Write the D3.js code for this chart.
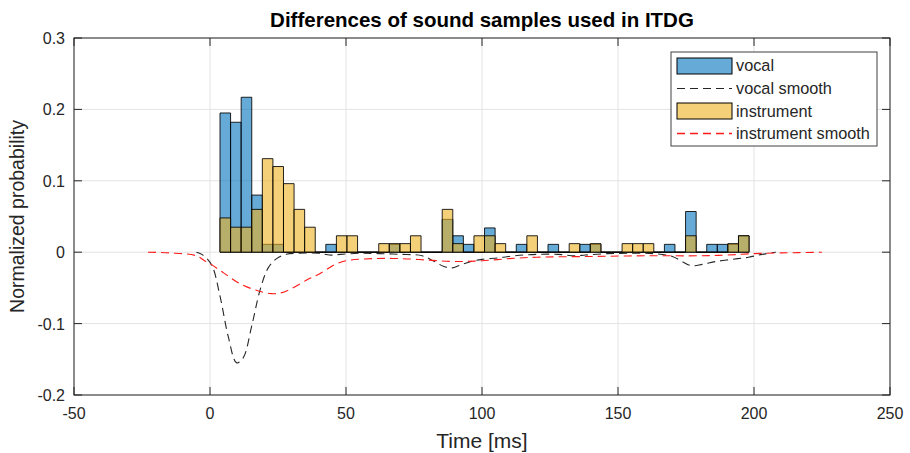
<!DOCTYPE html>
<html><head><meta charset="utf-8">
<script src="https://cdn.jsdelivr.net/npm/d3@7/dist/d3.min.js"></script>
<style>
body{margin:0;background:#fff}
text{font-family:"Liberation Sans",Arial,Helvetica,sans-serif;fill:#262626}
</style></head>
<body>
<svg id="chart" width="910" height="453"></svg>
<script>
// ---------- data ----------
const titleText = "Differences of sound samples used in ITDG";
const xLabelText = "Time [ms]";
const yLabelText = "Normalized probability";
const xTicks = [-50, 0, 50, 100, 150, 200, 250];
const yTicks = [-0.2, -0.1, 0, 0.1, 0.2, 0.3];
const binStart = 3.68;   // ms, left edge of first bin
const binWidth = 3.89;   // ms
const vocal = [0.195,0.182,0.217,0.080,0.011,0.011,0,0,0,0,
               0.011,0,0,0,0,0,0.011,0,0,0,
               0,0.046,0.023,0.011,0,0.034,0,0,0.011,0,
               0,0.011,0,0,0.011,0.011,0,0,0,0,
               0,0,0.011,0,0.057,0,0.011,0.011,0.011,0.023];
const instrument = [0.048,0.035,0.035,0.060,0.131,0.120,0.096,0.060,0.035,0,
                    0,0.023,0.023,0,0,0.012,0.012,0.012,0.023,0,
                    0,0.060,0.012,0,0.023,0.023,0.012,0,0,0.023,
                    0,0,0,0.012,0,0.012,0,0,0.012,0.012,
                    0.012,0,0,0,0.023,0,0,0,0.012,0.023];
const vocalSmoothT = [-5,-3,0.6,3.7,6.7,9.8,12.2,15.3,18.4,21.4,24.5,28,32,40,44,48,55,62,70,78,82,86,89,92,96,100,106,112,120,128,134,138,146,155,163,170,174,177,181,186,192,198,203,208];
const vocalSmoothV = [0,-0.003,-0.018,-0.062,-0.118,-0.155,-0.148,-0.104,-0.053,-0.022,-0.009,-0.003,-0.0015,-0.0015,-0.004,-0.003,-0.0015,-0.002,-0.003,-0.005,-0.012,-0.02,-0.022,-0.018,-0.013,-0.01,-0.008,-0.005,-0.003,-0.003,-0.005,-0.004,-0.002,-0.0015,-0.002,-0.006,-0.014,-0.019,-0.017,-0.013,-0.01,-0.007,-0.003,0];
const instSmoothT = [-22.8,-15,-5,-2,0,5,11,17.5,22.5,26,30,36,40,46,50,60,70,80,90,100,110,120,140,160,180,190,200,210,225];
const instSmoothV = [0,-0.001,-0.005,-0.012,-0.016,-0.029,-0.044,-0.054,-0.058,-0.057,-0.051,-0.038,-0.031,-0.017,-0.012,-0.009,-0.009,-0.011,-0.013,-0.012,-0.009,-0.007,-0.006,-0.005,-0.005,-0.004,-0.002,-0.001,0];
const seriesNames = ["vocal", "vocal smooth", "instrument", "instrument smooth"];

// ---------- styles ----------
const blue = "#0072BD", yellow = "#EDB120", red = "#ff1a1a", dark = "#262626";
const svg = d3.select("#chart");
const L = 74, R = 890, T = 38, B = 395;
const x = d3.scaleLinear().domain([-50, 250]).range([L, R]);
const y = d3.scaleLinear().domain([-0.2, 0.3]).range([B, T]);

// grid
const g = svg.append("g");
g.selectAll(".gx").data(xTicks).enter().append("line")
  .attr("x1", d => x(d)).attr("x2", d => x(d)).attr("y1", T).attr("y2", B)
  .attr("stroke", "#e3e3e3").attr("stroke-width", 1);
g.selectAll(".gy").data(yTicks).enter().append("line")
  .attr("x1", L).attr("x2", R).attr("y1", d => y(d)).attr("y2", d => y(d))
  .attr("stroke", "#e3e3e3").attr("stroke-width", 1);

// bars
function drawHist(vals, color) {
  svg.append("g").selectAll("path").data(vals).enter().append("path")
    .attr("d", (v, i) => {
      const x0 = x(binStart + i * binWidth), x1 = x(binStart + (i + 1) * binWidth);
      return `M${x0},${y(0)}V${y(v)}H${x1}V${y(0)}Z`;
    })
    .attr("fill", color).attr("fill-opacity", 0.6)
    .attr("stroke", "#000").attr("stroke-opacity", 0.85).attr("stroke-width", 1);
}
drawHist(vocal, blue);
drawHist(instrument, yellow);

// smooth lines
const line = d3.line().x(d => x(d[0])).y(d => y(d[1])).curve(d3.curveCatmullRom.alpha(0.5));
svg.append("path").datum(vocalSmoothT.map((t, i) => [t, vocalSmoothV[i]]))
  .attr("d", line).attr("fill", "none").attr("stroke", dark)
  .attr("stroke-width", 1.1).attr("stroke-dasharray", "8,5");
svg.append("path").datum(instSmoothT.map((t, i) => [t, instSmoothV[i]]))
  .attr("d", line).attr("fill", "none").attr("stroke", red)
  .attr("stroke-width", 1.1).attr("stroke-dasharray", "8,5");

// box + ticks
const ax = svg.append("g").attr("stroke", dark).attr("stroke-width", 1);
ax.append("rect").attr("x", L).attr("y", T).attr("width", R - L).attr("height", B - T).attr("fill", "none");
const tl = 8;
xTicks.forEach(t => {
  ax.append("line").attr("x1", x(t)).attr("x2", x(t)).attr("y1", B).attr("y2", B - tl);
  ax.append("line").attr("x1", x(t)).attr("x2", x(t)).attr("y1", T).attr("y2", T + tl);
});
yTicks.forEach(t => {
  ax.append("line").attr("x1", L).attr("x2", L + tl).attr("y1", y(t)).attr("y2", y(t));
  ax.append("line").attr("x1", R).attr("x2", R - tl).attr("y1", y(t)).attr("y2", y(t));
});

// tick labels
svg.append("g").selectAll("text").data(xTicks).enter().append("text")
  .attr("x", d => x(d)).attr("y", B + 24).attr("text-anchor", "middle")
  .attr("font-size", 16).text(d => d);
svg.append("g").selectAll("text").data(yTicks).enter().append("text")
  .attr("x", L - 9).attr("y", d => y(d) + 6).attr("text-anchor", "end")
  .attr("font-size", 16).text(d => d);

// title & labels
svg.append("text").attr("x", (L + R) / 2).attr("y", 27).attr("text-anchor", "middle")
  .attr("font-size", 20.5).attr("font-weight", "bold").style("fill", "#000").text(titleText);
svg.append("text").attr("x", (L + R) / 2).attr("y", 448).attr("text-anchor", "middle")
  .attr("font-size", 21).text(xLabelText);
svg.append("text").attr("transform", `translate(24,${(T + B) / 2}) rotate(-90)`)
  .attr("text-anchor", "middle").attr("font-size", 19.5).text(yLabelText);

// legend
const lg = svg.append("g");
lg.append("rect").attr("x", 671).attr("y", 52).attr("width", 206).attr("height", 94)
  .attr("fill", "#fff").attr("stroke", "#404040").attr("stroke-width", 1);
const rowY = [65.5, 88.5, 111, 133.5];
lg.append("rect").attr("x", 677).attr("y", 58).attr("width", 55).attr("height", 16)
  .attr("fill", blue).attr("fill-opacity", 0.6).attr("stroke", "#000");
lg.append("line").attr("x1", 677).attr("x2", 732).attr("y1", rowY[1]).attr("y2", rowY[1])
  .attr("stroke", dark).attr("stroke-width", 1.2).attr("stroke-dasharray", "8,5");
lg.append("rect").attr("x", 677).attr("y", 103).attr("width", 55).attr("height", 16)
  .attr("fill", yellow).attr("fill-opacity", 0.6).attr("stroke", "#000");
lg.append("line").attr("x1", 677).attr("x2", 732).attr("y1", rowY[3]).attr("y2", rowY[3])
  .attr("stroke", red).attr("stroke-width", 1.3).attr("stroke-dasharray", "8,5");
lg.selectAll("text.l").data(seriesNames).enter().append("text")
  .attr("x", 736).attr("y", (d, i) => rowY[i] + 5.5).attr("font-size", 16.3).text(d => d);
</script>
</body></html>
